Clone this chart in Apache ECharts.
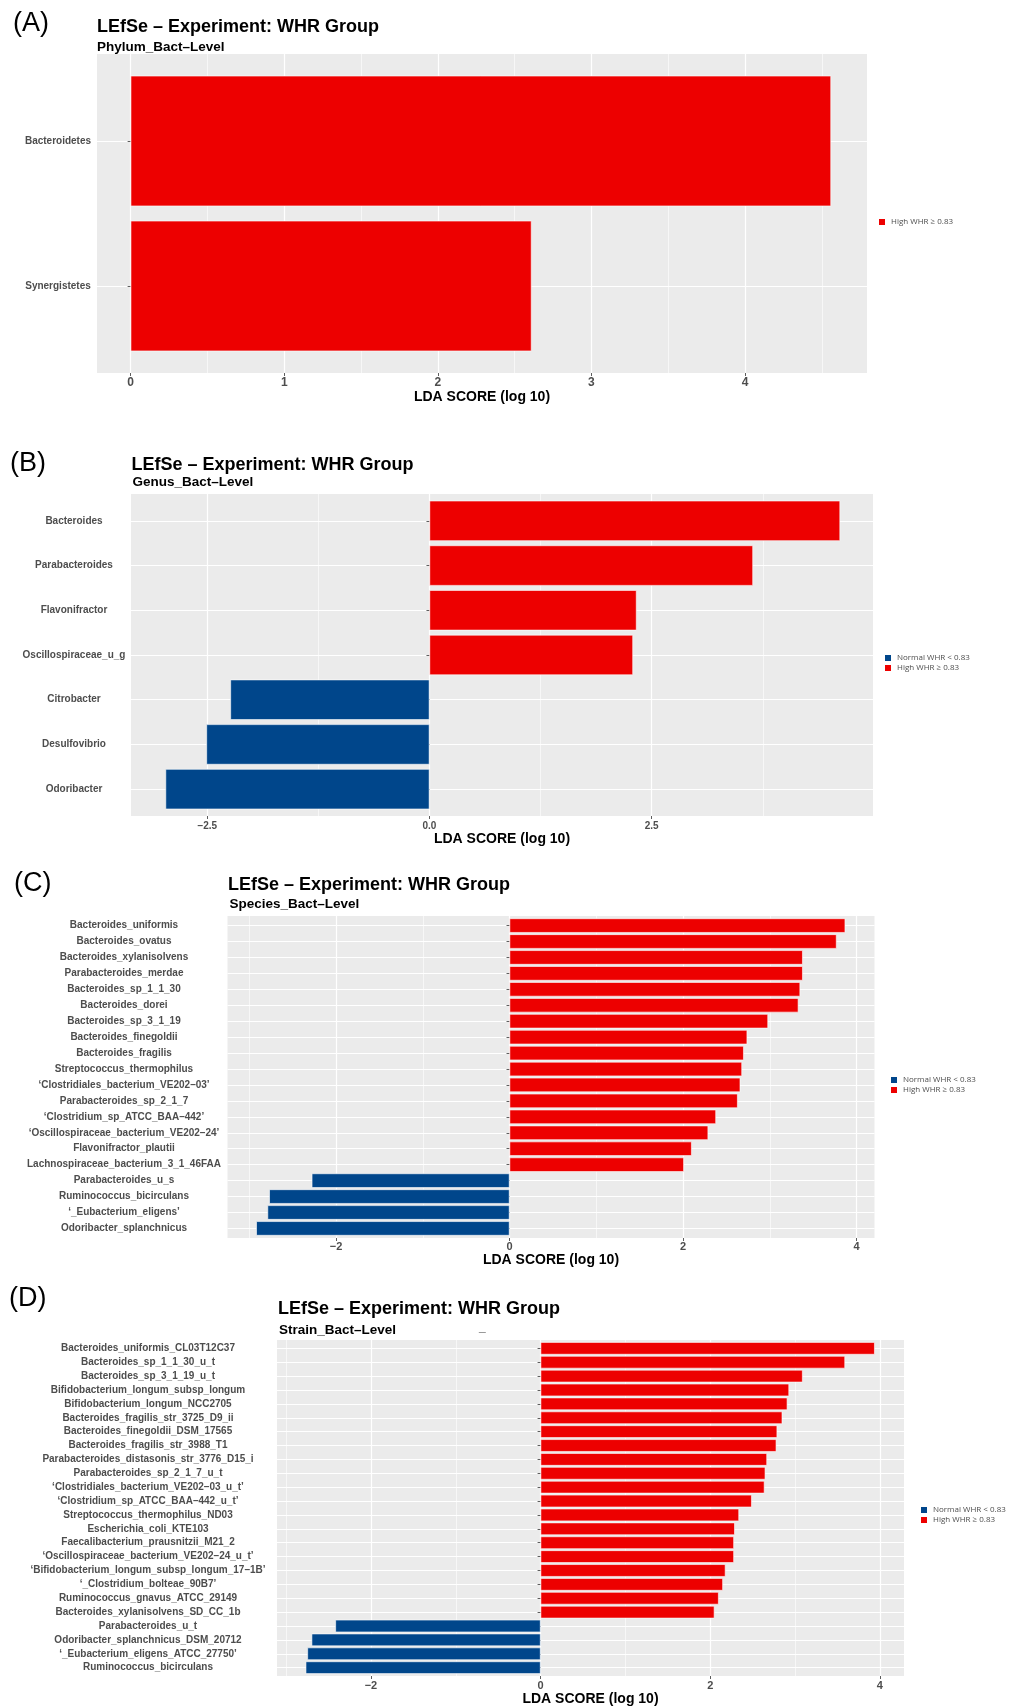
<!DOCTYPE html>
<html>
<head>
<meta charset="utf-8">
<title>LEfSe - Experiment: WHR Group</title>
<script src="https://cdn.jsdelivr.net/npm/echarts@6/dist/echarts.min.js"></script>
<style>
  html, body { margin: 0; padding: 0; background: #fff; }
  #chart { width: 1020px; height: 1707px; }
</style>
</head>
<body>
<div id="chart"></div>
<script>
const FONT = '"Liberation Sans", Arial, sans-serif'
const NORMAL = 'Normal WHR < 0.83'
const HIGH = 'High WHR ≥ 0.83'
const TITLE = 'LEfSe – Experiment: WHR Group'

// (A) phylum
const phylumLabels = ['Bacteroidetes', 'Synergistetes']
const phylumScores = [4.56, 2.61]
const phylumTicks = [0, 1, 2, 3, 4]
const phylumRange = [-0.219, 4.794]

// (B) genus
const genusLabels = ['Bacteroides', 'Parabacteroides', 'Flavonifractor', 'Oscillospiraceae_u_g',
  'Citrobacter', 'Desulfovibrio', 'Odoribacter']
const genusScores = [4.62, 3.64, 2.33, 2.29, -2.24, -2.51, -2.97]
const genusTicks = [-2.5, 0, 2.5]
const genusRange = [-3.358, 4.99]

// (C) species
const speciesLabels = ['Bacteroides_uniformis', 'Bacteroides_ovatus', 'Bacteroides_xylanisolvens',
  'Parabacteroides_merdae', 'Bacteroides_sp_1_1_30', 'Bacteroides_dorei', 'Bacteroides_sp_3_1_19',
  'Bacteroides_finegoldii', 'Bacteroides_fragilis', 'Streptococcus_thermophilus',
  '‘Clostridiales_bacterium_VE202–03’', 'Parabacteroides_sp_2_1_7', '‘Clostridium_sp_ATCC_BAA–442’',
  '‘Oscillospiraceae_bacterium_VE202–24’', 'Flavonifractor_plautii', 'Lachnospiraceae_bacterium_3_1_46FAA',
  'Parabacteroides_u_s', 'Ruminococcus_bicirculans', '‘_Eubacterium_eligens’', 'Odoribacter_splanchnicus']
const speciesScores = [3.87, 3.77, 3.38, 3.38, 3.35, 3.33, 2.98, 2.74, 2.70, 2.68,
  2.66, 2.63, 2.38, 2.29, 2.10, 2.01, -2.28, -2.77, -2.79, -2.92]
const speciesTicks = [-2, 0, 2, 4]
const speciesRange = [-3.251, 4.207]

// (D) strain
const strainLabels = ['Bacteroides_uniformis_CL03T12C37', 'Bacteroides_sp_1_1_30_u_t', 'Bacteroides_sp_3_1_19_u_t',
  'Bifidobacterium_longum_subsp_longum', 'Bifidobacterium_longum_NCC2705', 'Bacteroides_fragilis_str_3725_D9_ii',
  'Bacteroides_finegoldii_DSM_17565', 'Bacteroides_fragilis_str_3988_T1', 'Parabacteroides_distasonis_str_3776_D15_i',
  'Parabacteroides_sp_2_1_7_u_t', '‘Clostridiales_bacterium_VE202–03_u_t’', '‘Clostridium_sp_ATCC_BAA–442_u_t’',
  'Streptococcus_thermophilus_ND03', 'Escherichia_coli_KTE103', 'Faecalibacterium_prausnitzii_M21_2',
  '‘Oscillospiraceae_bacterium_VE202–24_u_t’', '‘Bifidobacterium_longum_subsp_longum_17–1B’',
  '‘_Clostridium_bolteae_90B7’', 'Ruminococcus_gnavus_ATCC_29149', 'Bacteroides_xylanisolvens_SD_CC_1b',
  'Parabacteroides_u_t', 'Odoribacter_splanchnicus_DSM_20712', '‘_Eubacterium_eligens_ATCC_27750’',
  'Ruminococcus_bicirculans']
const strainScores = [3.94, 3.59, 3.09, 2.93, 2.91, 2.85, 2.79, 2.78, 2.67, 2.65, 2.64, 2.49,
  2.34, 2.29, 2.28, 2.28, 2.18, 2.15, 2.10, 2.05, -2.42, -2.70, -2.75, -2.77]
const strainTicks = [-2, 0, 2, 4]
const strainRange = [-3.108, 4.285]

const panels = [
  { tag: '(A)', sub: 'Phylum_Bact–Level', labels: phylumLabels, scores: phylumScores,
    ticks: phylumTicks, range: phylumRange, digits: 0, groups: [HIGH],
    box: { left: 97, top: 54, width: 770, height: 319 }, labelX: 58,
    tagPos: [13, 23.5], titlePos: [97, 27.5], subPos: [97, 47], legendPos: [877, 217],
    tickFont: 12, tickMargin: 4, nameGap: 15 },
  { tag: '(B)', sub: 'Genus_Bact–Level', labels: genusLabels, scores: genusScores,
    ticks: genusTicks, range: genusRange, digits: 1, groups: [NORMAL, HIGH],
    box: { left: 131, top: 494, width: 742, height: 322 }, labelX: 74,
    tagPos: [10, 464], titlePos: [131.5, 465], subPos: [132.5, 482], legendPos: [883, 653],
    tickFont: 10, tickMargin: 5, nameGap: 15 },
  { tag: '(C)', sub: 'Species_Bact–Level', labels: speciesLabels, scores: speciesScores,
    ticks: speciesTicks, range: speciesRange, digits: 0, groups: [NORMAL, HIGH],
    box: { left: 227.5, top: 916, width: 647, height: 322 }, labelX: 124,
    tagPos: [14, 884], titlePos: [228, 885.5], subPos: [229.5, 904], legendPos: [889, 1075],
    tickFont: 11, tickMargin: 3, nameGap: 14 },
  { tag: '(D)', sub: 'Strain_Bact–Level', labels: strainLabels, scores: strainScores,
    ticks: strainTicks, range: strainRange, digits: 0, groups: [NORMAL, HIGH],
    box: { left: 277, top: 1340, width: 627, height: 336 }, labelX: 148,
    tagPos: [9, 1299], titlePos: [278, 1309.5], subPos: [279, 1330], legendPos: [919, 1505],
    tickFont: 11, tickMargin: 4.5, nameGap: 14 }
]

function tickText(v, digits) {
  return (v < 0 ? '−' : '') + Math.abs(v).toFixed(digits)
}

// midpoints between major breaks, also one step past each end, kept if inside the panel
function minorBreaks(ticks, range) {
  const step = ticks[1] - ticks[0]
  const out = []
  for (let v = ticks[0] - step / 2; v < ticks[ticks.length - 1] + step; v += step) {
    if (v > range[0] && v < range[1]) out.push(v)
  }
  return out
}

const grid = []
const xAxis = []
const yAxis = []
const series = []
const legend = []
const graphic = []

panels.forEach(p => {
  const n = p.labels.length
  // ggplot pads a discrete axis by 0.6 of a band each side, echarts by 0.5
  const band = p.box.height / (n + 0.2)
  const inset = band * 0.1
  const gPanel = grid.length
  const gBars = gPanel + 1

  grid.push({
    left: p.box.left, top: p.box.top, width: p.box.width, height: p.box.height,
    show: true, backgroundColor: '#EBEBEB', borderWidth: 0, z: 0,
    containLabel: false, outerBoundsMode: 'none'
  })
  grid.push({
    left: p.box.left, top: p.box.top + inset, width: p.box.width, height: p.box.height - 2 * inset,
    show: false, z: 0, containLabel: false, outerBoundsMode: 'none'
  })

  const minors = minorBreaks(p.ticks, p.range)

  xAxis.push({
    gridIndex: gPanel, type: 'value', min: p.range[0], max: p.range[1], position: 'bottom', z: 1,
    axisLine: { show: false },
    axisTick: { show: true, customValues: p.ticks, length: 3, lineStyle: { color: '#333333', width: 0.8 } },
    axisLabel: {
      customValues: p.ticks, formatter: v => tickText(v, p.digits), margin: p.tickMargin,
      color: '#4D4D4D', fontSize: p.tickFont, fontWeight: 'bold', fontFamily: FONT
    },
    splitLine: { show: true, lineStyle: { color: '#FFFFFF', width: 1.2 } },
    minorTick: { show: false },
    minorSplitLine: { show: false },
    name: 'LDA SCORE (log 10)', nameLocation: 'middle', nameGap: p.nameGap,
    nameTextStyle: { color: '#000', fontSize: 14, fontWeight: 'bold', fontFamily: FONT }
  })
  xAxis.push({
    gridIndex: gPanel, type: 'value', min: p.range[0], max: p.range[1], position: 'top', z: 1,
    axisLine: { show: false },
    axisTick: { show: false, customValues: minors },
    axisLabel: { show: false, customValues: minors },
    splitLine: { show: true, lineStyle: { color: '#FFFFFF', width: 0.6 } }
  })
  const xBars = xAxis.length
  xAxis.push({ gridIndex: gBars, type: 'value', min: p.range[0], max: p.range[1], show: false })

  yAxis.push({ gridIndex: gPanel, type: 'value', show: false })
  const yBars = yAxis.length
  yAxis.push({
    gridIndex: gBars, type: 'category', data: p.labels, inverse: true, z: 1,
    axisLine: { show: false },
    axisTick: { show: true, alignWithLabel: true, interval: 0, length: 3,
      lineStyle: { color: '#333333', width: 0.8 } },
    axisLabel: {
      interval: 0, align: 'center', margin: p.box.left - p.labelX,
      color: '#4D4D4D', fontSize: 10, fontWeight: 'bold', fontFamily: FONT
    },
    splitLine: { show: true, alignWithLabel: true, interval: 0, lineStyle: { color: '#FFFFFF', width: 1.2 } }
  })

  const barBase = {
    type: 'bar', xAxisIndex: xBars, yAxisIndex: yBars, barWidth: '90%', barGap: '-100%',
    silent: true, animation: false
  }
  series.push(Object.assign({}, barBase, {
    name: NORMAL,
    data: p.scores.map(v => (v < 0 ? v : '-')),
    itemStyle: { color: '#00468B', borderColor: '#FFFFFF', borderWidth: 0.6 }
  }))
  series.push(Object.assign({}, barBase, {
    name: HIGH,
    data: p.scores.map(v => (v > 0 ? v : '-')),
    itemStyle: { color: '#ED0000', borderColor: '#FFFFFF', borderWidth: 0.6 }
  }))

  legend.push({
    data: p.groups, left: p.legendPos[0], top: p.legendPos[1], orient: 'vertical',
    icon: 'rect', itemWidth: 8, itemHeight: 8, itemGap: 0, padding: 0, selectedMode: false,
    textStyle: { fontSize: 8, color: '#4D4D4D', fontFamily: '"Open Sans", sans-serif' }
  })

  graphic.push({
    type: 'text', x: p.tagPos[0], y: p.tagPos[1], silent: true,
    style: { text: p.tag, font: '27px ' + FONT, fill: '#000', align: 'left', verticalAlign: 'middle' }
  })
  graphic.push({
    type: 'text', x: p.titlePos[0], y: p.titlePos[1], silent: true,
    style: { text: TITLE, font: 'bold 18px ' + FONT, fill: '#000', align: 'left', verticalAlign: 'middle' }
  })
  graphic.push({
    type: 'text', x: p.subPos[0], y: p.subPos[1], silent: true,
    style: { text: p.sub, font: 'bold 13.5px ' + FONT, fill: '#000', align: 'left', verticalAlign: 'middle' }
  })
})

// stray mark next to the strain subtitle
graphic.push({
  type: 'text', x: 479, y: 1327, silent: true,
  style: { text: '_', font: '12px ' + FONT, fill: '#888', align: 'left', verticalAlign: 'middle' }
})

const chart = echarts.init(document.getElementById('chart'), null, { renderer: 'canvas' })
chart.setOption({
  animation: false,
  backgroundColor: '#FFFFFF',
  textStyle: { fontFamily: FONT },
  grid, xAxis, yAxis, series, legend, graphic
})
</script>
</body>
</html>
